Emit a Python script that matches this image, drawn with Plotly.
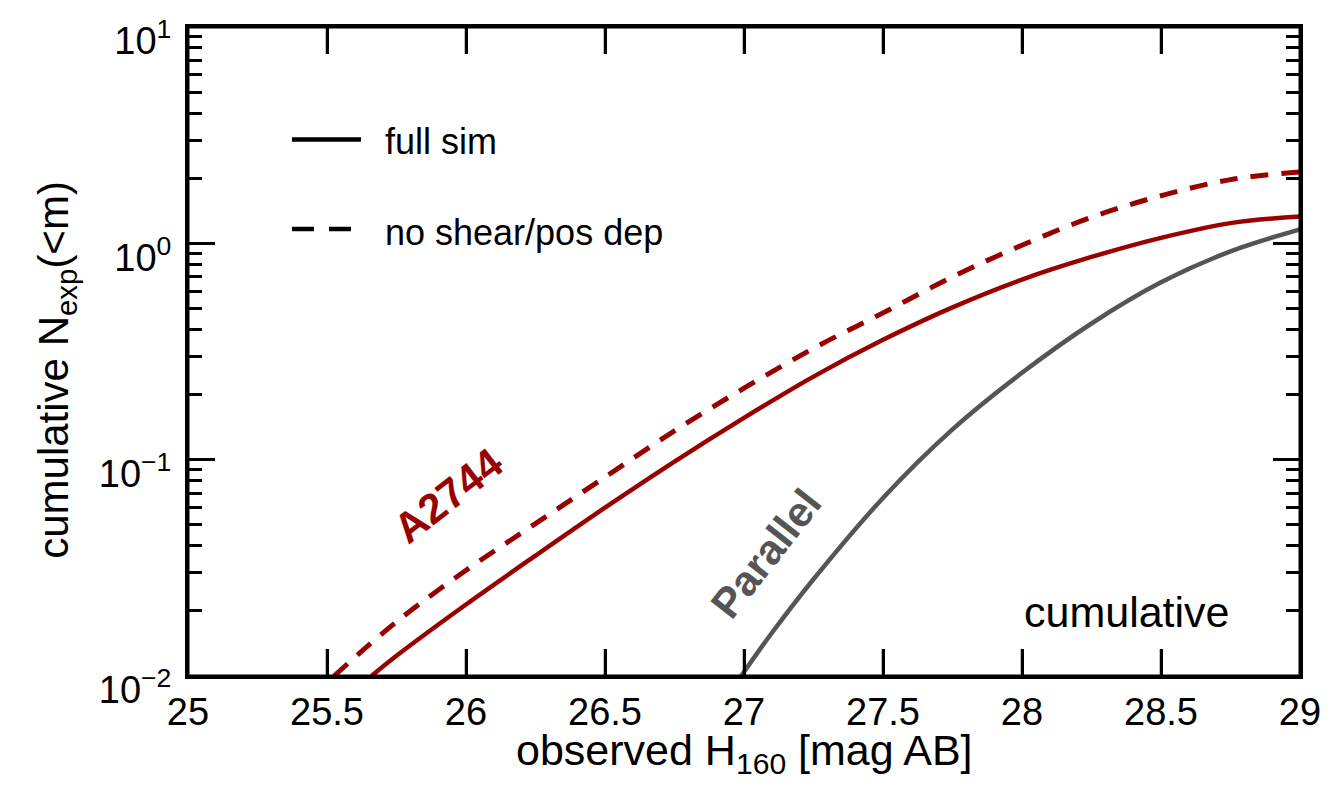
import plotly.graph_objects as go

# Cumulative expected counts N_exp(<m) versus observed H160 magnitude
a2744_full_mag = [25.66, 25.75, 26.0, 26.25, 26.5, 26.75, 27.0, 27.25, 27.5, 27.75, 28.0, 28.25, 28.5, 28.75, 29.0]
a2744_full_n = [0.010, 0.0124, 0.0214, 0.036, 0.060, 0.098, 0.156, 0.242, 0.358, 0.506, 0.68, 0.865, 1.06, 1.24, 1.33]

a2744_noshear_mag = [25.525, 25.75, 26.0, 26.25, 26.5, 26.75, 27.0, 27.25, 27.5, 27.75, 28.0, 28.25, 28.5, 28.75, 29.0]
a2744_noshear_n = [0.010, 0.0178, 0.0308, 0.0506, 0.083, 0.136, 0.214, 0.327, 0.477, 0.70, 0.98, 1.32, 1.66, 1.97, 2.14]

parallel_mag = [26.99, 27.1, 27.25, 27.5, 27.75, 28.0, 28.25, 28.5, 28.75, 29.0]
parallel_n = [0.010, 0.0158, 0.028, 0.0665, 0.138, 0.252, 0.426, 0.66, 0.918, 1.16]

x_ticks = [25, 25.5, 26, 26.5, 27, 27.5, 28, 28.5, 29]
y_ticks = [0.01, 0.1, 1, 10]
y_ticktext = ["10<sup>\u22122</sup>", "10<sup>\u22121</sup>", "10<sup>0</sup>", "10<sup>1</sup>"]

RED = "#990000"
GRAY = "#555555"
FONT = "Liberation Sans, Arial, Helvetica, sans-serif"
PLOT_H = 649  # plot-area height in px, used for tick lengths in paper units

fig = go.Figure()

fig.add_trace(go.Scatter(
    x=parallel_mag, y=parallel_n, mode="lines",
    line=dict(color=GRAY, width=4.5, shape="spline", smoothing=1.0),
    showlegend=False, name="Parallel"))

fig.add_trace(go.Scatter(
    x=a2744_noshear_mag, y=a2744_noshear_n, mode="lines",
    line=dict(color=RED, width=5, dash="18px,13px", shape="spline", smoothing=1.0),
    showlegend=False, name="no shear/pos dep"))

fig.add_trace(go.Scatter(
    x=a2744_full_mag, y=a2744_full_n, mode="lines",
    line=dict(color=RED, width=4.5, shape="spline", smoothing=1.0),
    showlegend=False, name="full sim"))

axis_common = dict(
    showline=True, linecolor="black", linewidth=3, mirror="allticks",
    ticks="inside", tickcolor="black", tickwidth=2.5,
    showgrid=False, zeroline=False, automargin=False,
    tickfont=dict(family=FONT, size=38, color="black"),
)

fig.update_xaxes(range=[25, 29], tickvals=x_ticks, ticklen=27, **axis_common)

fig.update_yaxes(
    type="log", range=[-2, 1], tickvals=y_ticks, ticktext=y_ticktext, ticklen=27,
    minor=dict(ticks="inside", ticklen=14, tickwidth=2.5, tickcolor="black",
               tickvals=[v * m for v in [0.01, 0.1, 1] for m in range(2, 10)]),
    ticklabelstandoff=6, ticklabelshift=14,
    **axis_common)

# plot frame
fig.add_shape(type="rect", xref="paper", yref="paper", x0=0, x1=1, y0=0, y1=1,
              line=dict(color="black", width=3), layer="above")

# x tick marks on the bottom and top edges
tick_frac = 27 / PLOT_H
for xv in x_ticks[1:-1]:
    for y0, y1 in ((0, tick_frac), (1 - tick_frac, 1)):
        fig.add_shape(type="line", xref="x", yref="paper", x0=xv, x1=xv, y0=y0, y1=y1,
                      line=dict(color="black", width=2.5), layer="above")

# legend samples
fig.add_shape(type="line", xref="paper", yref="paper",
              x0=0.0935, x1=0.1556, y0=0.8267, y1=0.8267,
              line=dict(color="black", width=4.5))
fig.add_shape(type="line", xref="paper", yref="paper",
              x0=0.0935, x1=0.1556, y0=0.6888, y1=0.6888,
              line=dict(color="black", width=4.5, dash="22px,15px"))

annotations = [
    # axis titles
    dict(text="observed H<sub>160</sub> [mag AB]", x=0.5, y=-0.118,
         xref="paper", yref="paper", xanchor="center", yanchor="middle",
         showarrow=False, font=dict(family=FONT, size=43, color="black")),
    dict(text="cumulative N<sub>exp</sub>(&lt;m)", x=-0.118, y=0.4715,
         xref="paper", yref="paper", xanchor="center", yanchor="middle",
         textangle=-90, showarrow=False,
         font=dict(family=FONT, size=42, color="black")),
    # legend labels
    dict(text="full sim", x=0.1754, y=0.8243, xref="paper", yref="paper",
         xanchor="left", yanchor="middle", showarrow=False,
         font=dict(family=FONT, size=36, color="black")),
    dict(text="no shear/pos dep", x=0.1754, y=0.684, xref="paper", yref="paper",
         xanchor="left", yanchor="middle", showarrow=False,
         font=dict(family=FONT, size=36, color="black")),
    # curve labels
    dict(text="<b>A2744</b>", x=25.936, y=-1.164, xref="x", yref="y",
         textangle=-38, showarrow=False,
         font=dict(family=FONT, size=42, color=RED)),
    dict(text="<b>Parallel</b>", x=27.079, y=-1.432, xref="x", yref="y",
         textangle=-52, showarrow=False,
         font=dict(family=FONT, size=42, color=GRAY)),
    dict(text="cumulative", x=28.376, y=-1.705, xref="x", yref="y",
         showarrow=False, font=dict(family=FONT, size=43, color="black")),
]

fig.update_layout(
    width=1339, height=786,
    margin=dict(l=188, r=39, t=27, b=110),
    paper_bgcolor="white", plot_bgcolor="white",
    annotations=annotations,
    showlegend=False,
)

fig.write_html("out.html")
